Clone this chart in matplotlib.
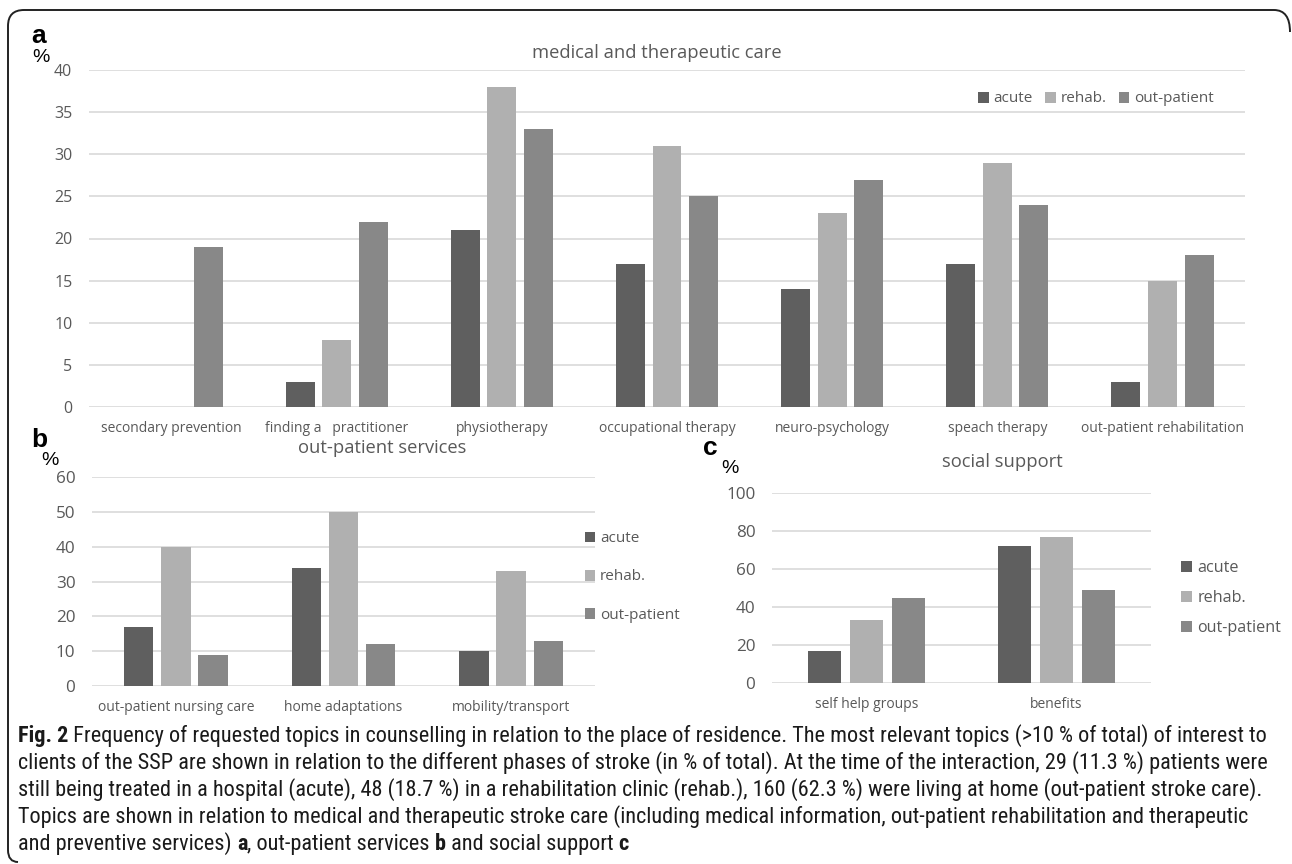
import matplotlib
matplotlib.use('Agg')
import matplotlib.pyplot as plt
import numpy as np
from matplotlib import font_manager as fm
from matplotlib.patches import PathPatch
from matplotlib.path import Path
from matplotlib.transforms import IdentityTransform

plt.rcParams['font.family'] = ['Open Sans', 'DejaVu Sans']

phases = ['acute', 'rehab.', 'out-patient']
phase_colors = ['#5f5f5f', '#b0b0b0', '#888888']

a_topics = ['secondary prevention', 'finding a   practitioner', 'physiotherapy',
            'occupational therapy', 'neuro-psychology', 'speach therapy',
            'out-patient rehabilitation']
a_acute = [0, 3, 21, 17, 14, 17, 3]
a_rehab = [0, 8, 38, 31, 23, 29, 15]
a_out = [19, 22, 33, 25, 27, 24, 18]

b_topics = ['out-patient nursing care', 'home adaptations', 'mobility/transport']
b_acute = [17, 34, 10]
b_rehab = [40, 50, 33]
b_out = [9, 12, 13]

c_topics = ['self help groups', 'benefits']
c_acute = [17, 72]
c_rehab = [33, 77]
c_out = [45, 49]

# caption lines as (text, weight) pieces
caption = [
    [('Fig. 2', 'bold'), (' Frequency of requested topics in counselling in relation to the place of residence. '
                          'The most relevant topics (>10 % of total) of interest to', 'normal')],
    [('clients of the SSP are shown in relation to the different phases of stroke (in % of total). '
      'At the time of the interaction, 29 (11.3 %) patients were', 'normal')],
    [('still being treated in a hospital (acute), 48 (18.7 %) in a rehabilitation clinic (rehab.), '
      '160 (62.3 %) were living at home (out-patient stroke care).', 'normal')],
    [('Topics are shown in relation to medical and therapeutic stroke care (including medical information, '
      'out-patient rehabilitation and therapeutic', 'normal')],
    [('and preventive services) ', 'normal'), ('a', 'bold'), (', out-patient services ', 'normal'),
     ('b', 'bold'), (' and social support ', 'normal'), ('c', 'bold')],
]

W, H = 1292, 864
fig = plt.figure(figsize=(W / 100, H / 100), dpi=100)
grey = '#595959'


def fx(x):
    return x / W


def fy(y):
    return 1 - y / H


def add_axes(left, right, top, bottom):
    return fig.add_axes([fx(left), fy(bottom), fx(right - left), fy(top) - fy(bottom)])


def draw_bars(ax, topics, series, ymax, ystep, tick_fs, cat_fs):
    x = np.arange(len(topics))
    for i, (vals, col, lab) in enumerate(zip(series, phase_colors, phases)):
        ax.bar(x + (i - 1) * 0.222, vals, 0.175, color=col, label=lab, zorder=3)
    ax.set_xlim(-0.5, len(topics) - 0.5)
    ax.set_ylim(0, ymax)
    ax.set_yticks(np.arange(0, ymax + 1, ystep))
    ax.set_xticks(x)
    ax.set_xticklabels(topics, fontsize=cat_fs)
    ax.grid(axis='y', color='#d9d9d9', lw=1.2, zorder=0)
    ax.set_axisbelow(True)
    for s in ax.spines.values():
        s.set_visible(False)
    ax.tick_params(axis='y', length=0, colors=grey, labelsize=tick_fs, pad=12)
    ax.tick_params(axis='x', length=0, colors=grey, pad=10)


def legend(ax, anchor, loc, fs, **kw):
    h, l = ax.get_legend_handles_labels()
    fig.legend(h, l, loc=loc, bbox_to_anchor=anchor, frameon=False, fontsize=fs,
               handlelength=0.7, handleheight=0.7, handletextpad=0.3,
               labelcolor=grey, borderpad=0, **kw)


# panel a
ax_a = add_axes(89, 1245, 70, 407)
draw_bars(ax_a, a_topics, [a_acute, a_rehab, a_out], 40, 5, 11.5, 10)
fig.text(fx(657), fy(53), 'medical and therapeutic care', ha='center', va='center',
         fontsize=13.2, color=grey)
legend(ax_a, (fx(1096), fy(99)), 'center', 11, ncol=3, columnspacing=0.8)

# panel b
ax_b = add_axes(92, 595, 477, 686)
draw_bars(ax_b, b_topics, [b_acute, b_rehab, b_out], 60, 10, 12.3, 10)
fig.text(fx(382), fy(448), 'out-patient services', ha='center', va='center',
         fontsize=13.2, color=grey)
legend(ax_b, (fx(577), fy(577)), 'center left', 11, labelspacing=1.52)

# panel c
ax_c = add_axes(772, 1151, 493, 683)
draw_bars(ax_c, c_topics, [c_acute, c_rehab, c_out], 100, 20, 12.3, 10)
fig.text(fx(1002), fy(462), 'social support', ha='center', va='center',
         fontsize=13.2, color=grey)
legend(ax_c, (fx(1173), fy(598)), 'center left', 11.6, labelspacing=0.86)

# panel letters and % signs (baseline positions)
for letter, (lx, ly), (px, py) in [('a', (39, 43), (41, 62)),
                                   ('b', (39, 447), (50, 465)),
                                   ('c', (710, 455), (730, 473))]:
    fig.text(fx(lx), fy(ly), letter, ha='center', va='baseline', fontsize=19,
             fontweight='bold', family='Liberation Sans')
    fig.text(fx(px), fy(py), '%', ha='center', va='baseline', fontsize=14,
             family='Liberation Sans')


# caption font: prefer a condensed face
def find_font(bold):
    prefs = ['Liberation Sans Narrow', 'Roboto Condensed', 'Open Sans Condensed',
             'Noto Sans', 'DejaVu Sans', 'Open Sans', 'Roboto']
    found = {}
    for f in fm.fontManager.ttflist:
        stretch = str(f.stretch)
        narrow = ('Narrow' in f.name or 'Condensed' in f.name or
                  stretch in ('condensed', 'semi-condensed', 'extra-condensed') or
                  (stretch.isdigit() and int(stretch) < 500))
        if not narrow or f.style != 'normal':
            continue
        w = f.weight if isinstance(f.weight, int) else (700 if 'bold' in str(f.weight) else 400)
        if (w >= 600) != bold or w not in (400, 700):
            continue
        found.setdefault(f.name, f.fname)
    for p in prefs:
        if p in found:
            return found[p]
    if found:
        return list(found.values())[0]
    return None


renderer = fig.canvas.get_renderer()
x_left, x_right = 18, 1275
files = {'normal': find_font(False), 'bold': find_font(True)}


def make_text(s, kind, size):
    if files[kind]:
        fp = fm.FontProperties(fname=files[kind], size=size)
    else:
        fp = fm.FontProperties(family='Liberation Sans', weight=kind, size=size)
    return fig.text(0, 0, s, ha='left', va='baseline', fontproperties=fp, color='#1a1a1a')


# one size for all lines, so that the widest full line fits the frame
base = 14.0
widest = 0
for parts in caption[:4]:
    tot = 0
    for s, kind in parts:
        t = make_text(s, kind, base)
        tot += t.get_window_extent(renderer).width
        t.remove()
    widest = max(widest, tot)
size = base * (x_right - x_left) / widest

for k, parts in enumerate(caption):
    x = x_left
    yb = 742 + 27 * k
    for s, kind in parts:
        t = make_text(s, kind, size)
        t.set_position((fx(x), fy(yb)))
        x += t.get_window_extent(renderer).width

# frame: top and left edges with rounded corners (pixel coords, origin bottom left)
xl, xr, yt, yb = 8, 1290, H - 10, 2
verts = [(xr, yt - 22), (xr, yt), (xr - 16, yt), (xl + 16, yt), (xl, yt), (xl, yt - 16),
         (xl, yb + 12), (xl, yb), (xl + 10, yb)]
codes = [Path.MOVETO, Path.CURVE3, Path.CURVE3, Path.LINETO, Path.CURVE3, Path.CURVE3,
         Path.LINETO, Path.CURVE3, Path.CURVE3]
fig.add_artist(PathPatch(Path(verts, codes), transform=IdentityTransform(), fill=False,
                         lw=1.4, ec='#222222'))

fig.savefig('out.png', dpi=100)
